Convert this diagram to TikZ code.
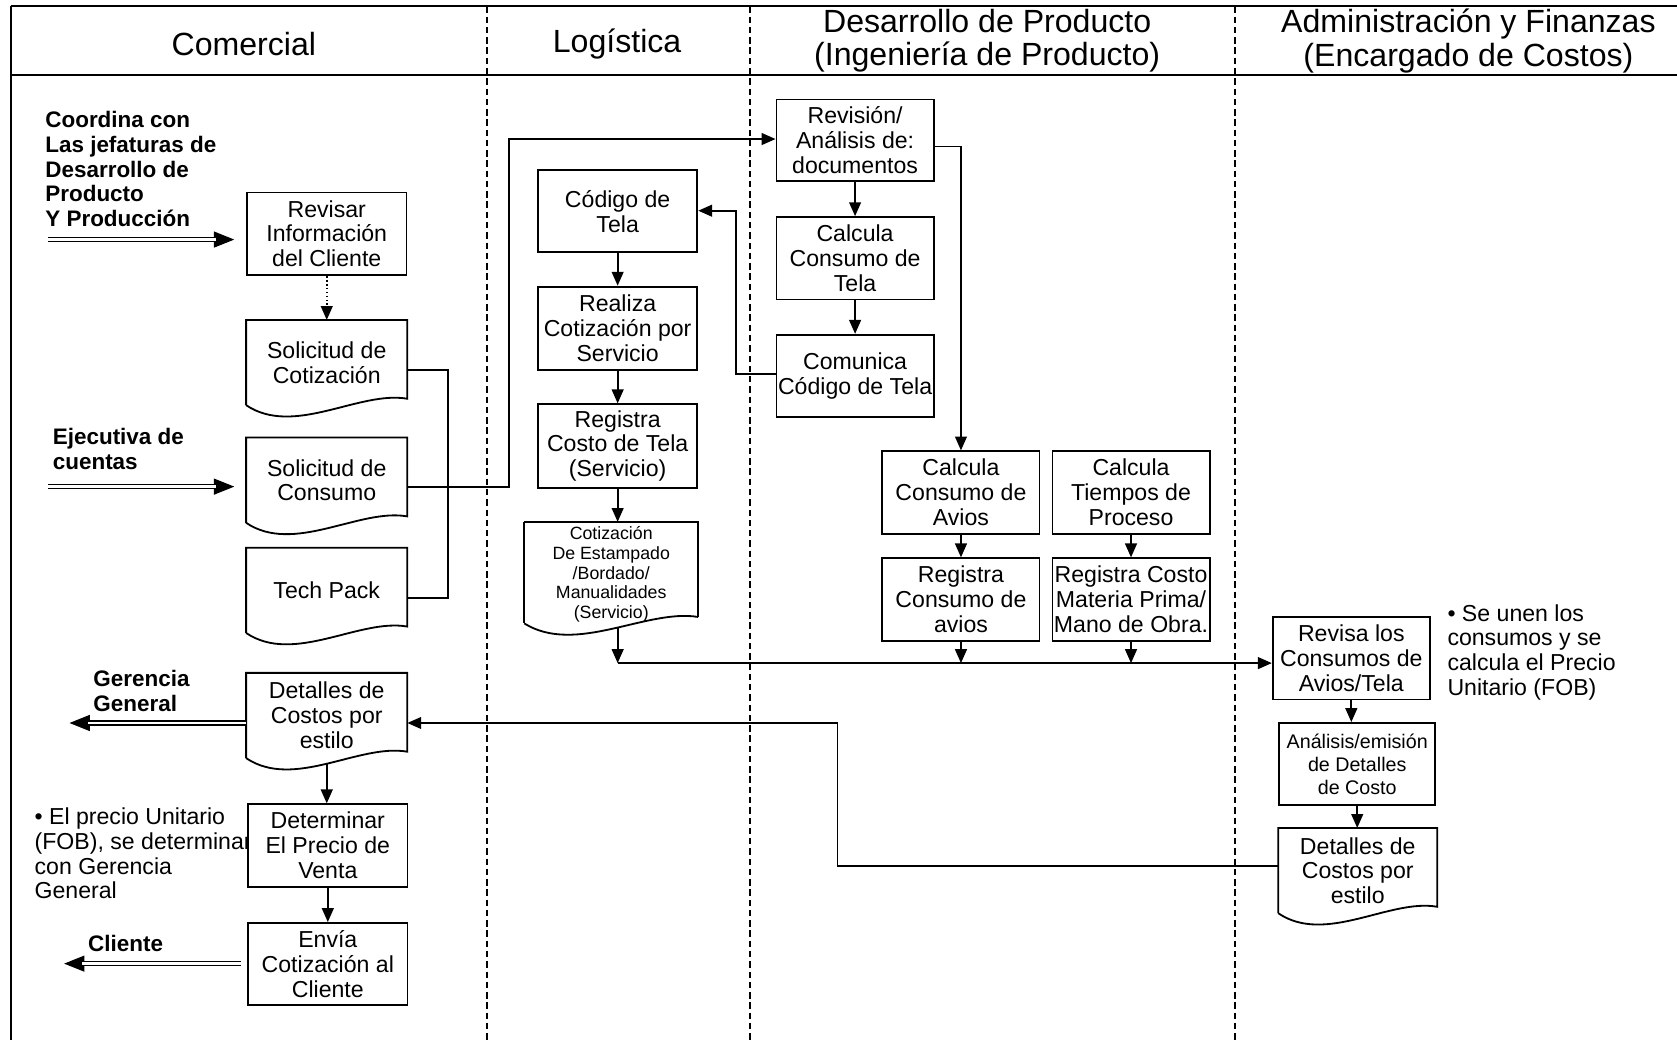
\documentclass[tikz,border=0pt]{standalone}
\usepackage{fontspec}
\setmainfont{Liberation Sans}
\usetikzlibrary{arrows.meta,calc}

% document symbol: straight top and sides, wavy bottom edge
\newcommand\docoutline[2]{%
  \draw[line width=0.85pt] (#1.south west) -- (#1.north west) -- (#1.north east)
    -- ($(#1.south east)+(0,-6)$)
    .. controls ($(#1.south east)+(-0.3*#2,-14)$) and ($(#1.south west)+(0.3*#2,30)$) .. (#1.south west);}

% hollow double arrow with a solid head
\newcommand\dblarrow[2]{%
  \draw[line width=0.5pt,-{Triangle[length=9.5pt,width=7.5pt]}] (#1) -- (#2);
  \draw[line width=0.6pt, double, double distance=1.3pt, shorten >=8.5pt] (#1) -- (#2);}

\begin{document}
\begin{tikzpicture}[x=0.5pt,y=-0.5pt,
  box/.style={draw, fill=white, line width=0.85pt, inner sep=0pt, align=center,
    minimum width=74.5pt, minimum height=38.5pt, font=\fontsize{10.8}{11.6}\selectfont},
  doc/.style={box, draw=none, fill=none, minimum height=39pt},
  arr/.style={line width=0.85pt, -{Triangle[length=6.5pt,width=5.5pt]}},
  lane/.style={line width=0.85pt, dash pattern=on 3pt off 1.8pt},
  rule/.style={line width=0.9pt},
  head/.style={font=\fontsize{15}{15.8}\selectfont, align=center, inner sep=0pt},
  lbl/.style={font=\fontsize{10.5}{11.5}\selectfont\bfseries, align=left, anchor=west, inner sep=0pt},
  note/.style={font=\fontsize{10.8}{11.6}\selectfont, align=left, anchor=west, inner sep=0pt}
]
\useasboundingbox (0,0) rectangle (1568,972);

% frame and swimlanes
\draw[rule] (10,6) -- (1568,6);
\draw[rule] (10,70) -- (1568,70);
\draw[rule] (10,6) -- (10,972);
\draw[lane] (455,6) -- (455,972);
\draw[lane] (701,6) -- (701,972);
\draw[lane] (1155,6) -- (1155,972);

% lane titles
\node[head] (hcom) at (228,41) {Comercial};
\node[head] (hlog) at (577,41) {Logística};
\node[head] (hdes) at (923,38) {Desarrollo de Producto\\(Ingeniería de Producto)};
\node[head] (hadm) at (1373,38) {Administración y Finanzas\\(Encargado de Costos)};

% side labels and notes
\node[lbl] (coord) at (42,158) {Coordina con\\Las jefaturas de\\Desarrollo de\\Producto\\Y Producción};
\node[lbl] (ejec) at (49,420) {Ejecutiva de\\cuentas};
\node[lbl] (geren) at (87,646) {Gerencia\\General};
\node[lbl] (clie) at (82,882) {Cliente};
\node[note] (fob) at (32,798) {• El precio Unitario\\(FOB), se determinar\\con Gerencia\\General};
\node[note] (unen) at (1353,610) {• Se unen los\\consumos y se\\calcula el Precio\\Unitario (FOB)};

% Comercial
\node[box] (rev) at (305.5,218.5) {Revisar\\Información\\del Cliente};
\node[doc] (scot) at (305.5,339) {Solicitud de\\Cotización};
\node[doc] (scon) at (305.5,449) {Solicitud de\\Consumo};
\node[doc] (tech) at (305.5,552) {Tech Pack};
\node[doc] (dcom) at (305.5,669) {Detalles de\\Costos por\\estilo};
\node[box] (det) at (306.5,790.5) {Determinar\\El Precio de\\Venta};
\node[box] (env) at (306.5,901.5) {Envía\\Cotización al\\Cliente};
\docoutline{scot}{149}
\docoutline{scon}{149}
\docoutline{tech}{149}
\docoutline{dcom}{149}

% Logística
\node[box] (cod) at (577.5,197.5) {Código de\\Tela};
\node[box, minimum height=39pt] (rea) at (577.5,307) {Realiza\\Cotización por\\Servicio};
\node[box, minimum height=39pt] (reg) at (577.5,417) {Registra\\Costo de Tela\\(Servicio)};
\node[doc, minimum width=80.5pt, minimum height=45pt, font=\fontsize{8.3}{9.3}\selectfont] (cest) at (571.5,537)
  {Cotización\\De Estampado\\/Bordado/\\Manualidades\\(Servicio)};
\draw[line width=0.85pt] (cest.south west |- 0,488) -- (cest.south west) ($(cest.south east)+(0,-6)$) -- (cest.south east |- 0,488) -- (cest.south west |- 0,488);
\draw[line width=0.85pt] ($(cest.south east)+(0,-6)$)
    .. controls ($(cest.south east)+(-0.3*161,-14)$) and ($(cest.south west)+(0.3*161,30)$) .. (cest.south west);

% Desarrollo de Producto
\node[box, minimum width=73.5pt, minimum height=38pt] (revi) at (799.5,131) {Revisión/\\Análisis de:\\documentos};
\node[box, minimum width=73.5pt] (ctela) at (799.5,241.5) {Calcula\\Consumo de\\Tela};
\node[box, minimum width=73.5pt] (com) at (799.5,351.5) {Comunica\\Código de Tela};
\node[box, minimum width=73.5pt] (cav) at (898.5,460.5) {Calcula\\Consumo de\\Avios};
\node[box, minimum width=73.5pt] (ctp) at (1057.5,460.5) {Calcula\\Tiempos de\\Proceso};
\node[box, minimum width=73.5pt] (rav) at (898.5,560.5) {Registra\\Consumo de\\avios};
\node[box, minimum width=73.5pt] (rcm) at (1057.5,560.5) {Registra Costo\\Materia Prima/\\Mano de Obra.};

% Administración y Finanzas
\node[box, minimum width=73.5pt] (rcons) at (1263.5,615.5) {Revisa los\\Consumos de\\Avios/Tela};
\node[box, minimum width=73pt, font=\fontsize{9.2}{10.8}\selectfont] (ana) at (1269,714.5) {Análisis/emisión\\de Detalles\\de Costo};
\node[doc, minimum width=73.5pt] (ddet) at (1269.5,814) {Detalles de\\Costos por\\estilo};
\docoutline{ddet}{147}

% free ends of the external flows
\coordinate (srcA) at (45,224);
\coordinate (tipA) at (219,224);
\coordinate (srcB) at (45,455);
\coordinate (tipB) at (219,455);
\coordinate (tipG) at (65,676);
\coordinate (srcC) at (225,901);
\coordinate (tipC) at (60,901);
\coordinate (bus) at (577.5,620);

% external flows
\dblarrow{srcA}{tipA}
\dblarrow{srcB}{tipB}
\dblarrow{dcom.west |- tipG}{tipG}
\dblarrow{srcC}{tipC}

% connectors
\draw[arr, densely dotted] (rev.south) -- (scot.north);
\draw[line width=0.85pt] (scot.east |- 0,346) -| (419,559) -- (tech.east |- 0,559);
\draw[arr] (scon.east |- 0,455) -| (476,130) -- (revi.west |- 0,130);
\draw[arr] (revi.south) -- (ctela.north);
\draw[arr] (ctela.south) -- (com.north);
\draw[arr] (com.west |- 0,350) -| (688,197) -- (cod.east |- 0,197);
\draw[arr] (revi.east |- 0,137) -| (cav.north);
\draw[arr] (cod.south) -- (rea.north);
\draw[arr] (rea.south) -- (reg.north);
\draw[arr] (reg.south) -- (reg.south |- 0,488);
\draw[arr] ($(cest.south -| reg.south)+(0,4)$) -- (bus);
\draw[arr] (bus) -- (rcons.west |- bus);
\draw[arr] (cav.south) -- (rav.north);
\draw[arr] (ctp.south) -- (rcm.north);
\draw[arr] (rav.south) -- (rav.south |- bus);
\draw[arr] (rcm.south) -- (rcm.south |- bus);
\draw[arr] (rcons.south) -- (rcons.south |- ana.north);
\draw[arr] (ana.south) -- (ana.south |- ddet.north);
\draw[arr] (ddet.west |- 0,810) -| (783,676) -- (dcom.east |- 0,676);
\draw[arr] ($(dcom.south)+(0,5)$) -- (dcom.south |- det.north);
\draw[arr] (det.south) -- (env.north);

\end{tikzpicture}
\end{document}
